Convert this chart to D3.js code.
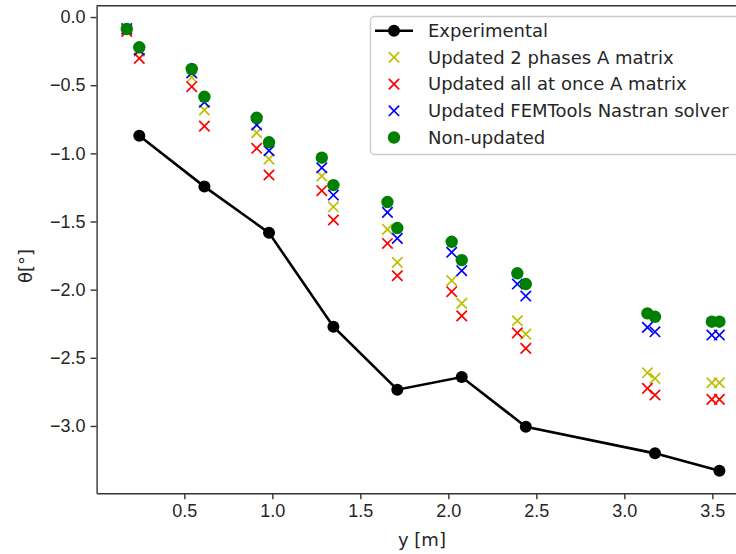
<!DOCTYPE html>
<html>
<head>
<meta charset="utf-8">
<script src="https://cdn.jsdelivr.net/npm/d3@7"></script>
<style>
    body { margin: 0; background: #fff; }
    svg { display: block; font-family: "DejaVu Sans", Verdana, sans-serif; }
    .axis text { font-size: 18px; fill: #262626; }
    .axis path, .axis line { stroke: #333; stroke-width: 1.4; }
</style>
</head>
<body>
<div id="chart"></div>
<script>
// spanwise stations [m]
let modelY = [0.173, 0.244, 0.542, 0.614, 0.911, 0.981, 1.281, 1.347, 1.654, 1.71,
    2.019, 2.076, 2.392, 2.44, 3.131, 3.174, 3.497, 3.54];
let expY = [0.244, 0.614, 0.981, 1.347, 1.71, 2.076, 2.44, 3.174, 3.54];

// twist angles [deg]
let experimental = [-0.871, -1.244, -1.583, -2.272, -2.734, -2.641, -3.006, -3.201, -3.329];
let twoPhases = [-0.095, -0.25, -0.442, -0.682, -0.849, -1.042, -1.167, -1.392, -1.558, -1.80,
    -1.934, -2.101, -2.228, -2.326, -2.61, -2.651, -2.683, -2.683];
let allAtOnce = [-0.105, -0.303, -0.511, -0.80, -0.963, -1.159, -1.274, -1.489, -1.661, -1.898,
    -2.015, -2.192, -2.317, -2.431, -2.724, -2.773, -2.805, -2.805];
let femTools = [-0.085, -0.242, -0.41, -0.625, -0.792, -0.981, -1.106, -1.306, -1.433, -1.624,
    -1.726, -1.861, -1.959, -2.047, -2.277, -2.309, -2.333, -2.333];
let nonUpdated = [-0.088, -0.222, -0.381, -0.585, -0.739, -0.919, -1.032, -1.233, -1.357, -1.548,
    -1.649, -1.783, -1.880, -1.959, -2.174, -2.199, -2.235, -2.235];

let xTicks = [0.5, 1.0, 1.5, 2.0, 2.5, 3.0, 3.5];
let yTicks = [0.0, -0.5, -1.0, -1.5, -2.0, -2.5, -3.0];

let crossSeries = [
    { label: "Updated 2 phases A matrix", color: "#bfbf00", values: twoPhases },
    { label: "Updated all at once A matrix", color: "#ff0000", values: allAtOnce },
    { label: "Updated FEMTools Nastran solver", color: "#0000ff", values: femTools }
];

let width = 736;
let height = 554;
let plotLeft = 96.6, plotRight = 747.3, plotTop = 5.8, plotBottom = 493.3;

let svg = d3.select("#chart")
    .append("svg")
    .attr("width", width)
    .attr("height", height)
    .attr("viewBox", "0 0 " + width + " " + height);

let xScale = d3.scaleLinear()
    .domain([0.0015, 3.6985])
    .range([plotLeft, plotRight]);

let yScale = d3.scaleLinear()
    .domain([-3.494, 0.0825])
    .range([plotBottom, plotTop]);

svg.append("clipPath")
    .attr("id", "plot-clip")
    .append("rect")
    .attr("x", plotLeft)
    .attr("y", plotTop)
    .attr("width", plotRight - plotLeft)
    .attr("height", plotBottom - plotTop);

// x-axis
svg.append("g")
    .attr("class", "axis")
    .attr("transform", "translate(0," + plotBottom + ")")
    .call(d3.axisBottom(xScale).tickValues(xTicks).tickFormat(d3.format(".1f")).tickSize(6).tickPadding(5).tickSizeOuter(0));

// y-axis
svg.append("g")
    .attr("class", "axis")
    .attr("transform", "translate(" + plotLeft + ",0)")
    .call(d3.axisLeft(yScale).tickValues(yTicks).tickFormat(d3.format(".1f")).tickSize(6).tickPadding(5).tickSizeOuter(0));

// top and right spines
svg.append("line")
    .attr("x1", plotLeft).attr("x2", plotRight)
    .attr("y1", plotTop).attr("y2", plotTop)
    .attr("stroke", "#333").attr("stroke-width", 1.4);
svg.append("line")
    .attr("x1", plotRight).attr("x2", plotRight)
    .attr("y1", plotTop).attr("y2", plotBottom)
    .attr("stroke", "#333").attr("stroke-width", 1.4);

// axis labels
svg.append("text")
    .attr("x", (plotLeft + plotRight) / 2)
    .attr("y", 546)
    .attr("text-anchor", "middle")
    .attr("font-size", 18)
    .attr("fill", "#262626")
    .text("y [m]");

svg.append("text")
    .attr("text-anchor", "middle")
    .attr("font-size", 18)
    .attr("fill", "#262626")
    .attr("transform", "translate(32,266) rotate(-90)")
    .text("θ[°]");

let plot = svg.append("g").attr("clip-path", "url(#plot-clip)");

let crossPath = (cx, cy, s) =>
    "M" + (cx - s) + "," + (cy - s) + "L" + (cx + s) + "," + (cy + s) +
    "M" + (cx - s) + "," + (cy + s) + "L" + (cx + s) + "," + (cy - s);

// experimental line
let line = d3.line()
    .x((d, i) => xScale(expY[i]))
    .y((d) => yScale(d));

plot.append("path")
    .attr("d", line(experimental))
    .attr("fill", "none")
    .attr("stroke", "black")
    .attr("stroke-width", 2.6);

plot.selectAll(".exp-point")
    .data(experimental)
    .enter()
    .append("circle")
    .attr("class", "exp-point")
    .attr("cx", (d, i) => xScale(expY[i]))
    .attr("cy", (d) => yScale(d))
    .attr("r", 6)
    .attr("fill", "black");

// cross markers
crossSeries.forEach(s => {
    plot.append("g")
        .selectAll("path")
        .data(s.values)
        .enter()
        .append("path")
        .attr("d", (d, i) => crossPath(xScale(modelY[i]), yScale(d), 5.2))
        .attr("stroke", s.color)
        .attr("stroke-width", 1.7)
        .attr("fill", "none");
});

// non-updated
plot.append("g")
    .selectAll("circle")
    .data(nonUpdated)
    .enter()
    .append("circle")
    .attr("cx", (d, i) => xScale(modelY[i]))
    .attr("cy", (d) => yScale(d))
    .attr("r", 6.2)
    .attr("fill", "#008000");

// legend
let legend = svg.append("g");

legend.append("rect")
    .attr("x", 370.5)
    .attr("y", 16.5)
    .attr("width", 371)
    .attr("height", 138)
    .attr("rx", 4)
    .attr("fill", "white")
    .attr("fill-opacity", 0.8)
    .attr("stroke", "#cccccc")
    .attr("stroke-width", 1.4);

let rowY = (i) => 30.7 + i * 26.7;

legend.append("line")
    .attr("x1", 375).attr("x2", 413)
    .attr("y1", rowY(0)).attr("y2", rowY(0))
    .attr("stroke", "black")
    .attr("stroke-width", 2.6);
legend.append("circle")
    .attr("cx", 394).attr("cy", rowY(0))
    .attr("r", 6)
    .attr("fill", "black");

crossSeries.forEach((s, i) => {
    legend.append("path")
        .attr("d", crossPath(394, rowY(i + 1), 5.2))
        .attr("stroke", s.color)
        .attr("stroke-width", 1.7);
});

legend.append("circle")
    .attr("cx", 394).attr("cy", rowY(4))
    .attr("r", 6.2)
    .attr("fill", "#008000");

let labels = ["Experimental"].concat(crossSeries.map(s => s.label)).concat(["Non-updated"]);

legend.selectAll(".legend-label")
    .data(labels)
    .enter()
    .append("text")
    .attr("class", "legend-label")
    .attr("x", 428)
    .attr("y", (d, i) => rowY(i))
    .attr("dy", "0.35em")
    .attr("font-size", 18)
    .attr("fill", "#262626")
    .text((d) => d);
</script>
</body>
</html>
